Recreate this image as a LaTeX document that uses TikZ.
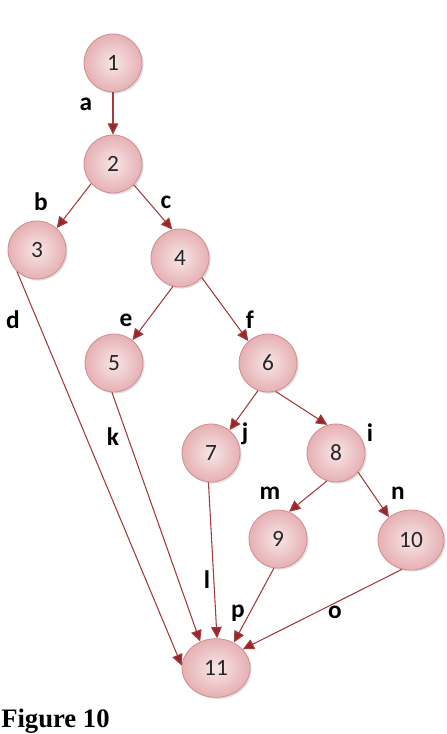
\documentclass[tikz,border=0pt]{standalone}
\usepackage{fontspec}
\newfontfamily\calfont{Carlito}
\newfontfamily\figfont{Liberation Serif}
\usetikzlibrary{arrows.meta,shapes.geometric,shadows}
\definecolor{edgered}{RGB}{165,58,58}
\definecolor{tipred}{RGB}{150,40,42}
\definecolor{pinkin}{RGB}{248,230,231}
\definecolor{pinkout}{RGB}{230,176,179}
\definecolor{pinkrim}{RGB}{208,142,145}
\begin{document}
\begin{tikzpicture}[x=0.75pt,y=-0.75pt,
  vertex/.style={ellipse,draw=pinkrim,line width=0.6pt,inner sep=0pt,
    minimum width=43.5pt,minimum height=43.5pt,
    inner color=pinkin,outer color=pinkout,
    drop shadow={shadow xshift=1.2pt,shadow yshift=-1.2pt,opacity=0.25},
    font=\calfont\fontsize{17.5}{17.5}\selectfont,text=black!85},
  lbl/.style={font=\calfont\bfseries\fontsize{19}{19}\selectfont,inner sep=0pt},
  edge/.style={draw=edgered,line width=0.8pt,
    -{Triangle[length=8.5pt,width=8pt,fill=tipred]}}]
  \useasboundingbox (0,0) rectangle (446,734);
  \foreach \n/\x/\y in {1/113/63,2/113/164,3/37/250,4/180/258,5/114/363,
      6/268/363,7/211/453,8/336/453,9/278/539} {
    \node[vertex] (n\n) at (\x,\y) {\n};
  }
  \node[vertex,minimum width=49.5pt,minimum height=45pt] (n10) at (411,540) {10};
  \node[vertex,minimum width=51pt,minimum height=44pt] (n11) at (216,668) {11};
  \foreach \t/\x/\y in {a/86/104,b/41/202,c/166/202,d/13/320,e/126/320,
      f/250/320,k/113/437,j/245/434,i/370/433,m/270/493,n/398/493,
      l/207/580,p/238/613,o/335/612} {
    \node[lbl] (l\t) at (\x,\y) {\t};
  }
  \foreach \s/\a/\t/\b in {1/south/2/north,2/222/3/48,2/315/4/105,
      4/256/5/51,4/318/6/132,6/250/7/51,6/285/8/107,8/252/9/68,8/319/10/134,
      3/227/11/176,5/266/11/121,7/265/11/88,9/262/11/55,10/253/11/35} {
    \draw[edge] (n\s.\a) -- (n\t.\b);
  }
  \node[font=\figfont\bfseries\fontsize{20}{20}\selectfont,anchor=base west,
    inner sep=0pt] (cap) at (1,727) {Figure 10};
\end{tikzpicture}
\end{document}
